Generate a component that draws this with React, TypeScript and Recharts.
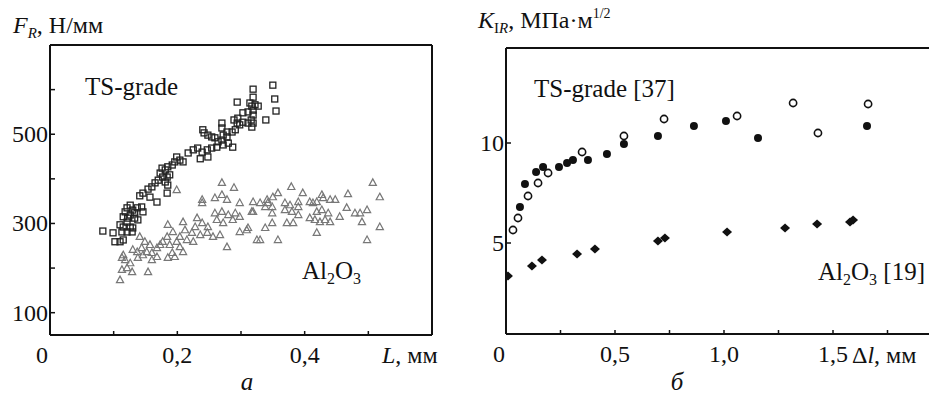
import React from "react";
import {
  ScatterChart,
  Scatter,
  XAxis,
  YAxis,
  ReferenceLine,
} from "recharts";

// panel a: F_R (Н/мм) vs L (мм)
const tsGradeSquares = [
  { x: 0.35, y: 610 }, { x: 0.353, y: 579 }, { x: 0.355, y: 552 },
  { x: 0.319, y: 601 }, { x: 0.319, y: 583 }, { x: 0.294, y: 572 },
  { x: 0.314, y: 570 }, { x: 0.317, y: 563 }, { x: 0.322, y: 566 },
  { x: 0.327, y: 563 }, { x: 0.319, y: 554 }, { x: 0.311, y: 550 },
  { x: 0.319, y: 543 }, { x: 0.316, y: 532 }, { x: 0.319, y: 525 },
  { x: 0.311, y: 525 }, { x: 0.317, y: 516 }, { x: 0.339, y: 532 },
  { x: 0.303, y: 548 }, { x: 0.295, y: 536 }, { x: 0.289, y: 532 },
  { x: 0.294, y: 525 }, { x: 0.298, y: 521 }, { x: 0.303, y: 527 },
  { x: 0.27, y: 525 }, { x: 0.27, y: 514 }, { x: 0.278, y: 505 },
  { x: 0.272, y: 498 }, { x: 0.278, y: 494 }, { x: 0.286, y: 505 },
  { x: 0.291, y: 510 }, { x: 0.24, y: 510 }, { x: 0.242, y: 503 },
  { x: 0.248, y: 498 }, { x: 0.254, y: 494 }, { x: 0.259, y: 492 },
  { x: 0.264, y: 483 }, { x: 0.27, y: 487 }, { x: 0.272, y: 476 },
  { x: 0.262, y: 471 }, { x: 0.254, y: 469 }, { x: 0.247, y: 465 },
  { x: 0.287, y: 471 }, { x: 0.28, y: 480 }, { x: 0.217, y: 458 },
  { x: 0.225, y: 465 }, { x: 0.232, y: 469 }, { x: 0.239, y: 460 },
  { x: 0.248, y: 449 }, { x: 0.236, y: 445 }, { x: 0.199, y: 449 },
  { x: 0.204, y: 442 }, { x: 0.209, y: 438 }, { x: 0.196, y: 438 },
  { x: 0.192, y: 431 }, { x: 0.185, y: 427 }, { x: 0.176, y: 424 },
  { x: 0.181, y: 420 }, { x: 0.173, y: 413 }, { x: 0.177, y: 404 },
  { x: 0.184, y: 404 }, { x: 0.188, y: 409 }, { x: 0.17, y: 397 },
  { x: 0.165, y: 391 }, { x: 0.16, y: 382 }, { x: 0.181, y: 393 },
  { x: 0.185, y: 386 }, { x: 0.184, y: 368 }, { x: 0.154, y: 377 },
  { x: 0.146, y: 368 }, { x: 0.141, y: 362 }, { x: 0.157, y: 359 },
  { x: 0.168, y: 348 }, { x: 0.126, y: 341 }, { x: 0.121, y: 335 },
  { x: 0.118, y: 326 }, { x: 0.13, y: 330 }, { x: 0.137, y: 335 },
  { x: 0.144, y: 337 }, { x: 0.146, y: 326 }, { x: 0.133, y: 324 },
  { x: 0.126, y: 319 }, { x: 0.115, y: 315 }, { x: 0.122, y: 312 },
  { x: 0.133, y: 312 }, { x: 0.138, y: 308 }, { x: 0.121, y: 303 },
  { x: 0.11, y: 297 }, { x: 0.115, y: 292 }, { x: 0.126, y: 292 },
  { x: 0.13, y: 290 }, { x: 0.113, y: 281 }, { x: 0.121, y: 281 },
  { x: 0.129, y: 281 }, { x: 0.099, y: 279 }, { x: 0.083, y: 283 },
  { x: 0.102, y: 259 }, { x: 0.11, y: 259 }, { x: 0.115, y: 263 },
];

const aluminaTriangles = [
  { x: 0.199, y: 375 }, { x: 0.27, y: 391 }, { x: 0.289, y: 380 },
  { x: 0.298, y: 346 }, { x: 0.319, y: 348 }, { x: 0.319, y: 326 },
  { x: 0.239, y: 353 }, { x: 0.239, y: 346 }, { x: 0.259, y: 357 },
  { x: 0.27, y: 364 }, { x: 0.278, y: 353 }, { x: 0.259, y: 323 },
  { x: 0.27, y: 326 }, { x: 0.28, y: 319 }, { x: 0.291, y: 323 },
  { x: 0.262, y: 308 }, { x: 0.272, y: 301 }, { x: 0.287, y: 308 },
  { x: 0.298, y: 315 }, { x: 0.231, y: 312 }, { x: 0.239, y: 301 },
  { x: 0.248, y: 292 }, { x: 0.228, y: 292 }, { x: 0.209, y: 303 },
  { x: 0.212, y: 285 }, { x: 0.223, y: 279 }, { x: 0.236, y: 274 },
  { x: 0.247, y: 279 }, { x: 0.256, y: 270 }, { x: 0.267, y: 274 },
  { x: 0.278, y: 247 }, { x: 0.298, y: 281 }, { x: 0.309, y: 285 },
  { x: 0.325, y: 263 }, { x: 0.311, y: 290 }, { x: 0.185, y: 297 },
  { x: 0.193, y: 281 }, { x: 0.204, y: 270 }, { x: 0.215, y: 263 },
  { x: 0.225, y: 259 }, { x: 0.199, y: 259 }, { x: 0.184, y: 270 },
  { x: 0.177, y: 259 }, { x: 0.188, y: 252 }, { x: 0.204, y: 247 },
  { x: 0.209, y: 236 }, { x: 0.192, y: 234 }, { x: 0.185, y: 223 },
  { x: 0.196, y: 225 }, { x: 0.173, y: 252 }, { x: 0.168, y: 245 },
  { x: 0.141, y: 270 }, { x: 0.149, y: 259 }, { x: 0.157, y: 252 },
  { x: 0.144, y: 245 }, { x: 0.152, y: 236 }, { x: 0.16, y: 234 },
  { x: 0.137, y: 236 }, { x: 0.146, y: 229 }, { x: 0.13, y: 241 },
  { x: 0.138, y: 223 }, { x: 0.168, y: 225 }, { x: 0.16, y: 218 },
  { x: 0.115, y: 229 }, { x: 0.118, y: 218 }, { x: 0.113, y: 223 },
  { x: 0.126, y: 211 }, { x: 0.121, y: 200 }, { x: 0.113, y: 196 },
  { x: 0.129, y: 191 }, { x: 0.154, y: 191 }, { x: 0.11, y: 173 },
  { x: 0.379, y: 382 }, { x: 0.507, y: 391 }, { x: 0.518, y: 359 },
  { x: 0.468, y: 366 }, { x: 0.397, y: 368 }, { x: 0.427, y: 364 },
  { x: 0.429, y: 357 }, { x: 0.44, y: 353 }, { x: 0.448, y: 353 },
  { x: 0.419, y: 348 }, { x: 0.413, y: 346 }, { x: 0.408, y: 348 },
  { x: 0.358, y: 368 }, { x: 0.35, y: 359 }, { x: 0.341, y: 353 },
  { x: 0.33, y: 346 }, { x: 0.317, y: 326 }, { x: 0.338, y: 337 },
  { x: 0.342, y: 346 }, { x: 0.349, y: 337 }, { x: 0.369, y: 346 },
  { x: 0.377, y: 341 }, { x: 0.39, y: 348 }, { x: 0.39, y: 337 },
  { x: 0.369, y: 330 }, { x: 0.38, y: 326 }, { x: 0.39, y: 319 },
  { x: 0.372, y: 301 }, { x: 0.382, y: 301 }, { x: 0.349, y: 323 },
  { x: 0.349, y: 301 }, { x: 0.338, y: 290 }, { x: 0.33, y: 263 },
  { x: 0.358, y: 263 }, { x: 0.408, y: 312 }, { x: 0.416, y: 308 },
  { x: 0.424, y: 303 }, { x: 0.432, y: 308 }, { x: 0.44, y: 303 },
  { x: 0.419, y: 279 }, { x: 0.419, y: 326 }, { x: 0.427, y: 330 },
  { x: 0.437, y: 323 }, { x: 0.455, y: 315 }, { x: 0.466, y: 335 },
  { x: 0.479, y: 323 }, { x: 0.487, y: 323 }, { x: 0.498, y: 330 },
  { x: 0.49, y: 303 }, { x: 0.518, y: 292 }, { x: 0.498, y: 263 },
];

// panel б: K_IR (МПа·м^1/2) vs Δl (мм)
const tsFilled = [
  { x: 0.064, y: 6.8 }, { x: 0.087, y: 7.95 }, { x: 0.138, y: 8.55 },
  { x: 0.17, y: 8.8 }, { x: 0.243, y: 8.8 }, { x: 0.28, y: 9.0 },
  { x: 0.307, y: 9.15 }, { x: 0.376, y: 9.15 }, { x: 0.463, y: 9.45 },
  { x: 0.541, y: 9.95 }, { x: 0.697, y: 10.35 }, { x: 0.862, y: 10.85 },
  { x: 1.009, y: 11.1 }, { x: 1.156, y: 10.25 }, { x: 1.656, y: 10.85 },
];

const tsOpen = [
  { x: 0.032, y: 5.65 }, { x: 0.055, y: 6.25 }, { x: 0.101, y: 7.35 },
  { x: 0.147, y: 8.0 }, { x: 0.193, y: 8.5 }, { x: 0.349, y: 9.55 },
  { x: 0.541, y: 10.35 }, { x: 0.725, y: 11.2 }, { x: 1.06, y: 11.35 },
  { x: 1.317, y: 12.0 }, { x: 1.431, y: 10.5 }, { x: 1.661, y: 11.95 },
];

const aluminaDiamonds = [
  { x: 0.009, y: 3.35 }, { x: 0.119, y: 3.85 }, { x: 0.165, y: 4.15 },
  { x: 0.326, y: 4.45 }, { x: 0.408, y: 4.7 }, { x: 0.697, y: 5.1 },
  { x: 0.729, y: 5.25 }, { x: 1.014, y: 5.55 }, { x: 1.28, y: 5.75 },
  { x: 1.427, y: 5.95 }, { x: 1.578, y: 6.05 }, { x: 1.592, y: 6.15 },
];

const leftXTicks = [0, 0.1, 0.2, 0.3, 0.4, 0.5, 0.6];
const leftXLabels: Record<string, string> = { "0": "0", "0.2": "0,2", "0.4": "0,4" };
const leftYTicks = [100, 200, 300, 400, 500, 600];
const leftYLabels: Record<string, string> = { "100": "100", "300": "300", "500": "500" };

const rightXTicks = [0, 0.25, 0.5, 0.75, 1, 1.25, 1.5, 1.75];
const rightXLabels: Record<string, string> = { "0": "0", "0.5": "0,5", "1": "1,0", "1.5": "1,5" };
const rightYTicks = [5, 10];
const rightYLabels: Record<string, string> = { "5": "5", "10": "10" };

const FONT =
  '"Liberation Serif", Tinos, "Times New Roman", Times, "Nimbus Roman", "Nimbus Roman No9 L", FreeSerif, "Noto Serif", "DejaVu Serif", serif';
const INK = "#111";
const textStyle = { fontFamily: FONT };

const makeXTick = (labels: Record<string, string>, shift: Record<string, number> = {}) =>
  (props: any) => {
    const { x, y, payload } = props;
    const key = String(payload.value);
    const label = labels[key];
    return (
      <g>
        <line x1={x} x2={x} y1={y} y2={y - 4} stroke={INK} strokeWidth={1.5} />
        {label && (
          <text
            x={x + (shift[key] || 0)}
            y={y + 28}
            textAnchor="middle"
            style={textStyle}
            fontSize={24}
            fill={INK}
          >
            {label}
          </text>
        )}
      </g>
    );
  };

const makeYTick = (labels: Record<string, string>) => (props: any) => {
  const { x, y, payload } = props;
  const label = labels[String(payload.value)];
  return (
    <g>
      <line x1={x} x2={x + 5} y1={y} y2={y} stroke={INK} strokeWidth={1.5} />
      {label && (
        <text x={x - 2} y={y + 8} textAnchor="end" style={textStyle} fontSize={24} fill={INK}>
          {label}
        </text>
      )}
    </g>
  );
};

const Square = (p: any) => (
  <rect x={p.cx - 3} y={p.cy - 3} width={6} height={6} fill="none" stroke="#222" strokeWidth={1.3} />
);

const Triangle = (p: any) => (
  <path
    d={`M${p.cx},${p.cy - 4} L${p.cx + 3.6},${p.cy + 2.6} L${p.cx - 3.6},${p.cy + 2.6} Z`}
    fill="none"
    stroke="#777"
    strokeWidth={1.2}
  />
);

const FilledCircle = (p: any) => <circle cx={p.cx} cy={p.cy} r={4} fill={INK} />;

const OpenCircle = (p: any) => (
  <circle cx={p.cx} cy={p.cy} r={3.6} fill="#fff" stroke={INK} strokeWidth={1.6} />
);

const Diamond = (p: any) => (
  <path
    d={`M${p.cx},${p.cy - 4.5} L${p.cx + 5},${p.cy} L${p.cx},${p.cy + 4.5} L${p.cx - 5},${p.cy} Z`}
    fill={INK}
  />
);

const axisLine = { stroke: INK, strokeWidth: 2 };

export default function App() {
  return (
    <div
      style={{
        position: "absolute",
        left: 0,
        top: 0,
        width: 929,
        height: 400,
        overflow: "hidden",
        background: "#fff",
        fontFamily: FONT,
      }}
    >
      <div style={{ position: "absolute", left: 0, top: 0 }}>
        <ScatterChart width={460} height={400} margin={{ top: 45, right: 28, bottom: 25, left: 0 }}>
          <XAxis
            type="number"
            dataKey="x"
            domain={[0, 0.6]}
            ticks={leftXTicks}
            allowDataOverflow
            height={40}
            axisLine={axisLine}
            tickLine={false}
            tickSize={0}
            tickMargin={0}
            tick={makeXTick(leftXLabels, { "0": -8 })}
            interval={0}
          />
          <YAxis
            type="number"
            dataKey="y"
            domain={[50, 700]}
            ticks={leftYTicks}
            allowDataOverflow
            width={50}
            axisLine={axisLine}
            tickLine={false}
            tickSize={0}
            tickMargin={0}
            tick={makeYTick(leftYLabels)}
            interval={0}
          />
          <ReferenceLine y={700} stroke={INK} strokeWidth={2} />
          <ReferenceLine x={0.6} stroke={INK} strokeWidth={2} />
          <Scatter data={aluminaTriangles} shape={Triangle} isAnimationActive={false} />
          <Scatter data={tsGradeSquares} shape={Square} isAnimationActive={false} />
        </ScatterChart>
      </div>

      <div style={{ position: "absolute", left: 460, top: 0 }}>
        <ScatterChart width={500} height={400} margin={{ top: 48, right: 18, bottom: 26, left: 0 }}>
          <XAxis
            type="number"
            dataKey="x"
            domain={[0, 2]}
            ticks={rightXTicks}
            allowDataOverflow
            height={40}
            axisLine={axisLine}
            tickLine={false}
            tickSize={0}
            tickMargin={0}
            tick={makeXTick(rightXLabels, { "0": -7 })}
            interval={0}
          />
          <YAxis
            type="number"
            dataKey="y"
            domain={[0.45, 14.75]}
            ticks={rightYTicks}
            allowDataOverflow
            width={46}
            axisLine={axisLine}
            tickLine={false}
            tickSize={0}
            tickMargin={0}
            tick={makeYTick(rightYLabels)}
            interval={0}
          />
          <ReferenceLine y={14.75} stroke={INK} strokeWidth={2} />
          <Scatter data={aluminaDiamonds} shape={Diamond} isAnimationActive={false} />
          <Scatter data={tsFilled} shape={FilledCircle} isAnimationActive={false} />
          <Scatter data={tsOpen} shape={OpenCircle} isAnimationActive={false} />
        </ScatterChart>
      </div>

      <svg
        width={929}
        height={400}
        style={{ position: "absolute", left: 0, top: 0, pointerEvents: "none", fontFamily: FONT }}
        fill={INK}
      >
        <text x={13} y={33} fontSize={24}>
          <tspan fontStyle="italic">F</tspan>
          <tspan fontStyle="italic" fontSize={15} dy={5}>R</tspan>
          <tspan dy={-5}>, Н/мм</tspan>
        </text>
        <text x={85} y={95} fontSize={25}>TS-grade</text>
        <text x={302} y={279} fontSize={25}>
          Al<tspan fontSize={16} dy={5}>2</tspan>
          <tspan dy={-5}>O</tspan>
          <tspan fontSize={16} dy={5}>3</tspan>
        </text>
        <text x={382} y={363} fontSize={24}>
          <tspan fontStyle="italic">L</tspan>, мм
        </text>
        <text x={247} y={390} fontSize={25} fontStyle="italic" textAnchor="middle">а</text>

        <text x={478} y={28} fontSize={24}>
          <tspan fontStyle="italic">K</tspan>
          <tspan fontSize={15} dy={5}>I</tspan>
          <tspan fontSize={15} fontStyle="italic">R</tspan>
          <tspan dy={-5}>, МПа·м</tspan>
          <tspan fontSize={14} dy={-10}>1/2</tspan>
        </text>
        <text x={534} y={97} fontSize={25}>TS-grade [37]</text>
        <text x={818} y={280} fontSize={25}>
          Al<tspan fontSize={16} dy={5}>2</tspan>
          <tspan dy={-5}>O</tspan>
          <tspan fontSize={16} dy={5}>3</tspan>
          <tspan dy={-5}> [19]</tspan>
        </text>
        <text x={852} y={363} fontSize={24}>
          Δ<tspan fontStyle="italic">l</tspan>, мм
        </text>
        <text x={677} y={390} fontSize={25} fontStyle="italic" textAnchor="middle">б</text>
      </svg>
    </div>
  );
}
